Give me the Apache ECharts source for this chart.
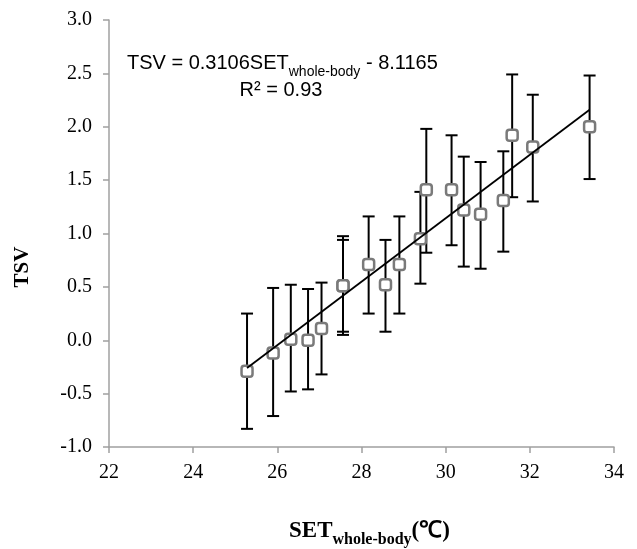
<!DOCTYPE html>
<html>
<head>
<meta charset="utf-8">
<script src="https://cdn.jsdelivr.net/npm/echarts@6/dist/echarts.min.js"></script>
<style>
html,body{margin:0;padding:0;background:#fff;}
#chart{width:637px;height:549px;}
</style>
</head>
<body>
<div id="chart"></div>
<script>
// SET whole-body (°C)
var setX = [25.28, 25.9, 26.32, 26.73, 27.05, 27.56, 27.56, 28.17, 28.57, 28.9, 29.4, 29.54, 30.14, 30.43, 30.83, 31.37, 31.58, 32.07, 33.42];
// mean TSV
var tsvMean = [-0.29, -0.12, 0.01, 0.0, 0.11, 0.51, 0.51, 0.71, 0.52, 0.71, 0.95, 1.41, 1.41, 1.22, 1.18, 1.31, 1.92, 1.81, 2.0];
// error bar upper / lower ends
var tsvUpper = [0.25, 0.49, 0.52, 0.48, 0.54, 0.975, 0.94, 1.16, 0.94, 1.16, 1.39, 1.98, 1.92, 1.72, 1.67, 1.77, 2.49, 2.30, 2.48];
var tsvLower = [-0.83, -0.71, -0.48, -0.46, -0.32, 0.05, 0.08, 0.25, 0.08, 0.25, 0.53, 0.82, 0.89, 0.69, 0.67, 0.83, 1.34, 1.30, 1.51];
// trend line end points
var trendX = [25.28, 33.42];
var trendY = [-0.26, 2.16];
// tick labels
var xTickLabels = ['22', '24', '26', '28', '30', '32', '34'];
var yTickLabels = ['-1.0', '-0.5', '0.0', '0.5', '1.0', '1.5', '2.0', '2.5', '3.0'];

var chart = echarts.init(document.getElementById('chart'), null, {renderer: 'canvas'});

var scatterData = setX.map(function (x, i) { return [x, tsvMean[i]]; });
var errData = setX.map(function (x, i) { return [x, tsvLower[i], tsvUpper[i]]; });
var trendData = trendX.map(function (x, i) { return [x, trendY[i]]; });

var axisColor = '#a0a0a0';
var serif = '"Liberation Serif", "Times New Roman", serif';
var sans = '"Liberation Sans", Arial, sans-serif';

var option = {
  backgroundColor: '#fff',
  animation: false,
  grid: {left: 109, right: 23, top: 20, bottom: 102, containLabel: false},
  xAxis: {
    type: 'value', min: 22, max: 34, interval: 2,
    axisLine: {show: true, onZero: false, lineStyle: {color: axisColor, width: 1.5}},
    axisTick: {show: true, inside: false, length: 6, lineStyle: {color: axisColor, width: 1.5}},
    splitLine: {show: false},
    axisLabel: {
      margin: 16, color: '#000', fontFamily: serif, fontSize: 20,
      formatter: function (v) { var i = Math.round((v - 22) / 2); return xTickLabels[i]; }
    }
  },
  yAxis: {
    type: 'value', min: -1, max: 3, interval: 0.5,
    axisLine: {show: true, onZero: false, lineStyle: {color: axisColor, width: 1.5}},
    axisTick: {show: true, inside: false, length: 6, lineStyle: {color: axisColor, width: 1.5}},
    splitLine: {show: false},
    axisLabel: {
      margin: 17, color: '#000', fontFamily: serif, fontSize: 20,
      formatter: function (v) { var i = Math.round((v + 1) / 0.5); return yTickLabels[i]; }
    }
  },
  series: [
    {
      type: 'custom',
      z: 2,
      data: errData,
      renderItem: function (params, api) {
        var x = api.value(0);
        var lo = api.coord([x, api.value(1)]);
        var hi = api.coord([x, api.value(2)]);
        var cap = 6;
        var st = {stroke: '#000', lineWidth: 2};
        return {
          type: 'group',
          children: [
            {type: 'line', shape: {x1: lo[0], y1: lo[1], x2: hi[0], y2: hi[1]}, style: st},
            {type: 'line', shape: {x1: hi[0] - cap, y1: hi[1], x2: hi[0] + cap, y2: hi[1]}, style: st},
            {type: 'line', shape: {x1: lo[0] - cap, y1: lo[1], x2: lo[0] + cap, y2: lo[1]}, style: st}
          ]
        };
      }
    },
    {
      type: 'scatter',
      z: 3,
      data: scatterData,
      symbol: 'roundRect',
      symbolSize: 11,
      itemStyle: {color: '#ffffff', borderColor: '#7a7a7a', borderWidth: 2.5, opacity: 1}
    },
    {
      type: 'line',
      z: 4,
      data: trendData,
      showSymbol: false,
      symbol: 'none',
      lineStyle: {color: '#000', width: 1.8}
    }
  ],
  graphic: [
    {
      type: 'text', left: 127, top: 53, z: 10,
      style: {
        text: '{a|TSV = 0.3106SET}{s|whole-body}{a| - 8.1165}',
        rich: {
          a: {fontFamily: sans, fontSize: 20, color: '#000', lineHeight: 24, verticalAlign: 'top'},
          s: {fontFamily: sans, fontSize: 14, color: '#000', lineHeight: 14, verticalAlign: 'top', padding: [12, 0, 0, 0]}
        }
      }
    },
    {
      type: 'text', x: 281, y: 80, z: 10,
      style: {
        text: 'R² = 0.93', fontFamily: sans, fontSize: 20, fill: '#000',
        textAlign: 'center', textVerticalAlign: 'top'
      }
    },
    {
      type: 'text', x: 23, y: 267, rotation: Math.PI / 2, z: 10,
      style: {
        text: 'TSV', fontFamily: serif, fontSize: 21, fontWeight: 'bold', fill: '#000',
        textAlign: 'center', textVerticalAlign: 'middle'
      }
    },
    {
      type: 'text', left: 289, top: 520, z: 10,
      style: {
        text: '{a|SET}{s|whole-body}{a|(℃)}',
        rich: {
          a: {fontFamily: serif, fontSize: 23, fontWeight: 'bold', color: '#000', lineHeight: 24, verticalAlign: 'top'},
          s: {fontFamily: serif, fontSize: 16, fontWeight: 'bold', color: '#000', lineHeight: 15, verticalAlign: 'top', padding: [12, 0, 0, 0]}
        }
      }
    }
  ]
};
chart.setOption(option);
</script>
</body>
</html>
